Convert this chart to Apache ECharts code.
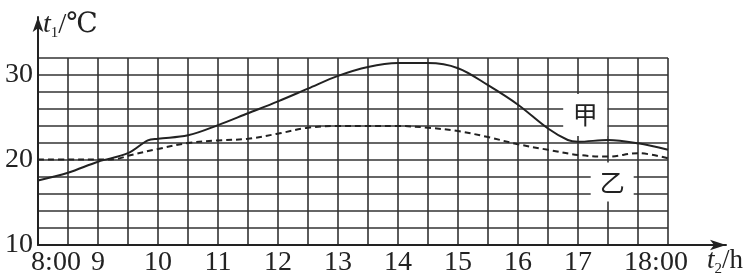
<!DOCTYPE html>
<html><head><meta charset="utf-8">
<script src="https://cdn.jsdelivr.net/npm/echarts@6/dist/echarts.min.js"></script>
<style>html,body{margin:0;padding:0;background:#fff}#c{width:753px;height:279px}</style>
</head><body><div id="c"></div>
<script>
// ---- data ----
const timesJia  = [8.0, 8.5, 9.0, 9.5, 9.83, 10.0, 10.5, 11.0, 11.5, 12.0, 12.5, 13.0, 13.5, 14.0, 14.5, 15.0, 15.5, 16.0, 16.5, 16.83, 17.0, 17.5, 18.0, 18.5];
const valuesJia = [17.6, 18.5, 19.8, 20.8, 22.3, 22.5, 22.9, 24.1, 25.5, 26.9, 28.4, 29.9, 30.95, 31.4, 31.4, 30.8, 28.8, 26.5, 23.7, 22.35, 22.15, 22.35, 21.96, 21.2];
const timesYi   = [8.0, 8.5, 9.0, 9.33, 9.5, 10.0, 10.5, 11.0, 11.5, 12.0, 12.5, 13.0, 13.5, 14.0, 14.5, 15.0, 15.5, 16.0, 16.5, 17.0, 17.5, 18.0, 18.5];
const valuesYi  = [20.05, 20.05, 20.05, 20.15, 20.5, 21.3, 22.0, 22.3, 22.5, 23.1, 23.8, 24.0, 24.0, 24.0, 23.8, 23.4, 22.7, 21.85, 21.2, 20.6, 20.4, 20.8, 20.2];
const xTickHours  = [8, 9, 10, 11, 12, 13, 14, 15, 16, 17, 18];
const xTickLabels = ['8:00', '9', '10', '11', '12', '13', '14', '15', '16', '17', '18:00'];
const yTickValues = [10, 20, 30];
const yTickLabels = ['10', '20', '30'];
const seriesNames = ['甲', '乙'];
const seriesLabelAt = [[17.12, 25.3], [17.57, 17.4]];

// ---- chart ----
const chart = echarts.init(document.getElementById('c'), null, {renderer: 'canvas'});
const serif = 'Liberation Serif, DejaVu Serif, serif';
const ink = '#222';
const gridColor = '#333';

function xFmt(v) {
  const i = xTickHours.indexOf(v);
  if (i < 0) return '';
  const s = xTickLabels[i];
  if (s.indexOf(':') >= 0) return '{p| }{t|' + s + '}';
  return '{t|' + s + '}';
}
function yFmt(v) {
  const i = yTickValues.indexOf(v);
  return i < 0 ? '' : yTickLabels[i];
}
function boxPoint(k, size) {
  return {
    coord: seriesLabelAt[k], symbol: 'rect', symbolSize: size,
    itemStyle: {color: '#fff'},
    label: {show: true, position: 'inside', formatter: seriesNames[k],
      fontFamily: 'Noto Sans CJK SC', fontSize: 25, color: ink}
  };
}

chart.setOption({
  animation: false,
  backgroundColor: '#fff',
  grid: [
    {left: 38, right: 85, top: 58, bottom: 34},
    {left: 38, right: 27, top: 17, bottom: 34}
  ],
  xAxis: [
    {type: 'value', gridIndex: 0, min: 8, max: 18.5, interval: 0.5,
      axisLine: {show: false}, axisTick: {show: false},
      splitLine: {show: true, showMinLine: true, showMaxLine: true, lineStyle: {color: gridColor, width: 1.6}},
      axisLabel: {show: true, showMinLabel: true, showMaxLabel: true, margin: 4, formatter: xFmt,
        rich: {
          t: {fontFamily: serif, fontSize: 28, color: ink},
          p: {fontFamily: serif, fontSize: 28, width: 36}
        }}},
    {type: 'value', gridIndex: 1, min: 0, max: 1,
      axisLine: {show: true, symbol: ['none', 'arrow'], symbolSize: [8, 16], lineStyle: {color: ink, width: 2}},
      axisTick: {show: false}, axisLabel: {show: false}, splitLine: {show: false},
      name: '{t|t}{s|2}{n|/h}', nameLocation: 'end', nameGap: -19,
      nameTextStyle: {align: 'left', verticalAlign: 'top', padding: [2, 0, 0, 0],
        rich: {
          t: {fontFamily: serif, fontStyle: 'italic', fontSize: 27, color: ink, verticalAlign: 'top', lineHeight: 30},
          s: {fontFamily: serif, fontSize: 15, color: ink, verticalAlign: 'bottom', lineHeight: 16},
          n: {fontFamily: serif, fontSize: 27, color: ink, verticalAlign: 'top', lineHeight: 30}
        }}}
  ],
  yAxis: [
    {type: 'value', gridIndex: 0, min: 10, max: 32, interval: 2,
      axisLine: {show: false}, axisTick: {show: false},
      splitLine: {show: true, showMinLine: true, showMaxLine: true, lineStyle: {color: gridColor, width: 1.6}},
      axisLabel: {show: true, showMinLabel: true, margin: 5, formatter: yFmt,
        fontFamily: serif, fontSize: 28, color: ink}},
    {type: 'value', gridIndex: 1, min: 0, max: 1,
      axisLine: {show: true, symbol: ['none', 'arrow'], symbolSize: [8, 15], lineStyle: {color: ink, width: 2}},
      axisTick: {show: false}, axisLabel: {show: false}, splitLine: {show: false},
      name: '{t|t}{s|1}{n|/}{c|℃}', nameLocation: 'end', nameGap: -24,
      nameTextStyle: {align: 'left', verticalAlign: 'bottom', padding: [0, 0, 0, 5],
        rich: {
          t: {fontFamily: serif, fontStyle: 'italic', fontSize: 28, color: ink, verticalAlign: 'top', lineHeight: 30},
          s: {fontFamily: serif, fontSize: 15, color: ink, verticalAlign: 'bottom', lineHeight: 16},
          n: {fontFamily: serif, fontSize: 29, color: ink, verticalAlign: 'top', lineHeight: 30},
          c: {fontFamily: 'DejaVu Serif, Liberation Serif, serif', fontSize: 28, color: ink, verticalAlign: 'top', lineHeight: 30}
        }}}
  ],
  series: [
    {type: 'line', name: seriesNames[0], xAxisIndex: 0, yAxisIndex: 0,
      data: timesJia.map((t, i) => [t, valuesJia[i]]),
      smooth: 0.35, showSymbol: false, symbol: 'none',
      lineStyle: {color: ink, width: 2},
      markPoint: {silent: true, data: [boxPoint(0, [44, 42])]}},
    {type: 'line', name: seriesNames[1], xAxisIndex: 0, yAxisIndex: 0,
      data: timesYi.map((t, i) => [t, valuesYi[i]]),
      smooth: 0.35, showSymbol: false, symbol: 'none',
      lineStyle: {color: ink, width: 2, type: [6, 4]},
      markPoint: {silent: true, data: [boxPoint(1, [43, 39])]}}
  ]
});
</script>
</body></html>
